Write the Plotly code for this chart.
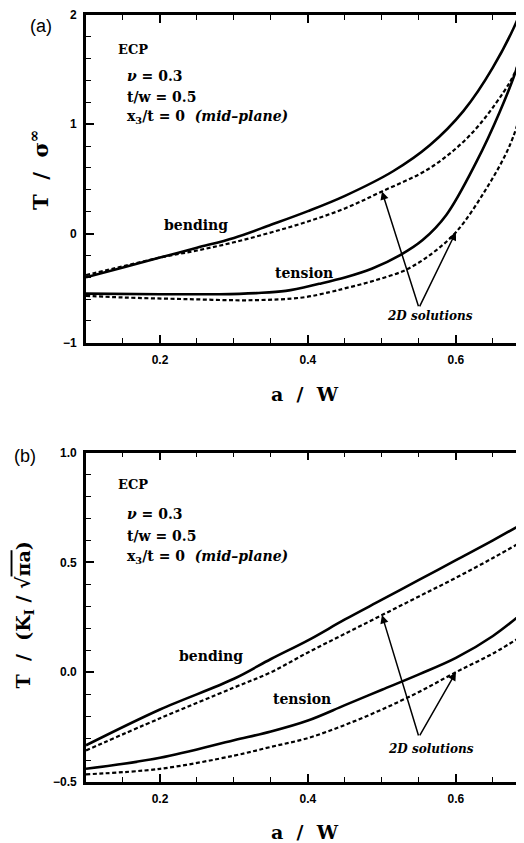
import numpy as np
import plotly.graph_objects as go
from plotly.subplots import make_subplots

# ---------- data: panel (a)  T / sigma_inf ----------
a_bend3d_x = [0.10, 0.15, 0.20, 0.25, 0.30, 0.35, 0.40, 0.45, 0.515, 0.565, 0.61, 0.65, 0.687, 0.70]
a_bend3d_y = [-0.40, -0.31, -0.22, -0.13, -0.04, 0.08, 0.205, 0.345, 0.57, 0.81, 1.12, 1.52, 2.02, 2.30]

a_bend2d_x = [0.10, 0.15, 0.20, 0.25, 0.30, 0.35, 0.40, 0.45, 0.50, 0.565, 0.619, 0.664, 0.68, 0.692]
a_bend2d_y = [-0.38, -0.30, -0.22, -0.155, -0.08, 0.01, 0.11, 0.23, 0.385, 0.60, 0.90, 1.29, 1.48, 1.72]

a_ten3d_x = [0.10, 0.20, 0.28, 0.33, 0.37, 0.415, 0.451, 0.487, 0.524, 0.555, 0.587, 0.628, 0.659, 0.682, 0.692]
a_ten3d_y = [-0.55, -0.555, -0.555, -0.545, -0.525, -0.46, -0.40, -0.32, -0.20, -0.06, 0.17, 0.66, 1.11, 1.51, 1.78]

a_ten2d_x = [0.10, 0.15, 0.235, 0.325, 0.393, 0.43, 0.451, 0.49, 0.533, 0.57, 0.601, 0.641, 0.673, 0.692]
a_ten2d_y = [-0.57, -0.585, -0.60, -0.61, -0.585, -0.535, -0.50, -0.43, -0.33, -0.17, 0.02, 0.41, 0.81, 1.20]

# ---------- data: panel (b)  T / (K_I / sqrt(pi a)) ----------
b_x = [0.10, 0.20, 0.30, 0.35, 0.40, 0.45, 0.50, 0.55, 0.60, 0.65, 0.692]
b_bend3d_y = [-0.333, -0.17, -0.03, 0.06, 0.145, 0.24, 0.33, 0.42, 0.51, 0.60, 0.68]
b_bend2d_y = [-0.356, -0.21, -0.07, 0.00, 0.09, 0.175, 0.26, 0.345, 0.43, 0.52, 0.60]
b_ten3d_y = [-0.44, -0.39, -0.31, -0.27, -0.22, -0.15, -0.08, -0.01, 0.065, 0.165, 0.275]
b_ten2d_y = [-0.465, -0.44, -0.38, -0.34, -0.30, -0.24, -0.17, -0.09, 0.00, 0.085, 0.17]

# arrow targets (a/W where the 2D curves are pointed at) and arrow origin
arrow_bend_x = 0.50
arrow_ten_x = 0.60
arrow_tail_x = 0.55
a_arrow_tail_y = -0.68
b_arrow_tail_y = -0.295

x_range = [0.10, 0.692]
a_y_range = [-1, 2]
b_y_range = [-0.5, 1.0]

# ---------- figure ----------
fig = make_subplots(rows=2, cols=1)

solid = dict(color="black", width=2.6)
dashed = dict(color="black", width=2.2, dash="4px,2.5px")

fig.add_trace(go.Scatter(x=a_bend3d_x, y=a_bend3d_y, mode="lines", line=solid, line_shape="spline"), row=1, col=1)
fig.add_trace(go.Scatter(x=a_bend2d_x, y=a_bend2d_y, mode="lines", line=dashed, line_shape="spline"), row=1, col=1)
fig.add_trace(go.Scatter(x=a_ten3d_x, y=a_ten3d_y, mode="lines", line=solid, line_shape="spline"), row=1, col=1)
fig.add_trace(go.Scatter(x=a_ten2d_x, y=a_ten2d_y, mode="lines", line=dashed, line_shape="spline"), row=1, col=1)

fig.add_trace(go.Scatter(x=b_x, y=b_bend3d_y, mode="lines", line=solid, line_shape="spline"), row=2, col=1)
fig.add_trace(go.Scatter(x=b_x, y=b_bend2d_y, mode="lines", line=dashed, line_shape="spline"), row=2, col=1)
fig.add_trace(go.Scatter(x=b_x, y=b_ten3d_y, mode="lines", line=solid, line_shape="spline"), row=2, col=1)
fig.add_trace(go.Scatter(x=b_x, y=b_ten2d_y, mode="lines", line=dashed, line_shape="spline"), row=2, col=1)

tickfont = dict(family="Liberation Sans, Arial", size=12, color="black", weight="bold")

common_x = dict(range=x_range, showline=True, linecolor="black", linewidth=2.8, mirror="ticks",
                ticks="inside", ticklen=8, tickwidth=1.6, tickcolor="black",
                tick0=0, dtick=0.2, tickformat=".1f", showgrid=False, zeroline=False,
                tickfont=tickfont, ticklabelstandoff=4,
                minor=dict(dtick=0.05, tick0=0, ticks="inside", ticklen=5, tickwidth=1.4, tickcolor="black", showgrid=False))

fig.update_xaxes(**common_x, domain=[0, 1], row=1, col=1)
fig.update_xaxes(**common_x, domain=[0, 1], row=2, col=1)

common_y = dict(showline=True, linecolor="black", linewidth=2.8, mirror=False,
                ticks="inside", ticklen=8, tickwidth=1.6, tickcolor="black",
                showgrid=False, zeroline=False, tickfont=tickfont, ticklabelstandoff=4)

fig.update_yaxes(**common_y, range=a_y_range, tick0=0, dtick=1, domain=[0.5726, 1.0],
                 minor=dict(dtick=0.2, tick0=0, ticks="inside", ticklen=5, tickwidth=1.4, tickcolor="black", showgrid=False),
                 row=1, col=1)
fig.update_yaxes(**common_y, range=b_y_range, tick0=0, dtick=0.5, tickformat=".1f", domain=[0, 0.4295],
                 minor=dict(dtick=0.1, tick0=0, ticks="inside", ticklen=5, tickwidth=1.4, tickcolor="black", showgrid=False),
                 row=2, col=1)

serif = "DejaVu Serif, Liberation Serif, serif"
sans = "Liberation Sans, Arial, sans-serif"
ann = []

def txt(text, x, y, xref, yref, size=14, family=serif, xanchor="left", weight="bold", angle=0, yanchor="middle"):
    ann.append(dict(text=text, x=x, y=y, xref=xref, yref=yref, showarrow=False,
                    xanchor=xanchor, yanchor=yanchor, textangle=angle,
                    font=dict(family=family, size=size, color="black", weight=weight)))

# panel labels
txt("(a)", -0.1027, 0.9857, "paper", "paper", size=18, family=sans, xanchor="center", weight="normal")
txt("(b)", -0.139, 0.4252, "paper", "paper", size=18, family=sans, xanchor="center", weight="normal")

# axis titles
txt("a  /  W", 0.5, 0.506, "paper", "paper", size=19, xanchor="center")
txt("a  /  W", 0.5, -0.065, "paper", "paper", size=19, xanchor="center")
txt("T  /  σ<sup>∞</sup>", -0.107, 0.798, "paper", "paper", size=21, xanchor="center", angle=-90)
txt("T  /  (K<sub>I</sub> / √<span style='text-decoration:overline'>πa</span>)", -0.1416, 0.2185,
    "paper", "paper", size=19, xanchor="center", angle=-90)

# parameter blocks
for (xr, yr, ys) in [("x", "y", [1.687, 1.445, 1.248, 1.066]), ("x2", "y2", [0.856, 0.72, 0.621, 0.523])]:
    txt("ECP", 0.1405, ys[0], xr, yr, size=13)
    txt("<i>ν</i> = 0.3", 0.1527, ys[1], xr, yr, size=14)
    txt("t/w = 0.5", 0.1527, ys[2], xr, yr, size=14)
    txt("x<sub>3</sub>/t = 0  <i>(mid–plane)</i>", 0.1527, ys[3], xr, yr, size=14)

# curve labels
txt("bending", 0.2486, 0.075, "x", "y", size=14, xanchor="center")
txt("tension", 0.394, -0.36, "x", "y", size=14, xanchor="center")
txt("<i>2D solutions</i>", 0.565, -0.75, "x", "y", size=12, xanchor="center")
txt("bending", 0.269, 0.076, "x2", "y2", size=14, xanchor="center")
txt("tension", 0.3926, -0.121, "x2", "y2", size=14, xanchor="center")
txt("<i>2D solutions</i>", 0.566, -0.348, "x2", "y2", size=12, xanchor="center")

# arrows pointing at the 2D (dashed) curves
for (xr, yr, tail_y, bx, by, tx, ty) in [
        ("x", "y", a_arrow_tail_y, a_bend2d_x, a_bend2d_y, a_ten2d_x, a_ten2d_y),
        ("x2", "y2", b_arrow_tail_y, b_x, b_bend2d_y, b_x, b_ten2d_y)]:
    for hx, cx, cy in [(arrow_bend_x, bx, by), (arrow_ten_x, tx, ty)]:
        hy = float(np.interp(hx, cx, cy))
        ann.append(dict(x=hx, y=hy, ax=arrow_tail_x, ay=tail_y, xref=xr, yref=yr, axref=xr, ayref=yr,
                        showarrow=True, arrowhead=2, arrowsize=1.1, arrowwidth=1.5, arrowcolor="black",
                        text="", standoff=0, startstandoff=0))

# the page body has an 8px default margin, so the figure is drawn 8px in from the window corner
fig.update_layout(
    width=516, height=835,
    margin=dict(l=78, r=0, t=5, b=61),
    paper_bgcolor="white", plot_bgcolor="white",
    showlegend=False,
    annotations=ann,
)

fig.write_html("out.html")
